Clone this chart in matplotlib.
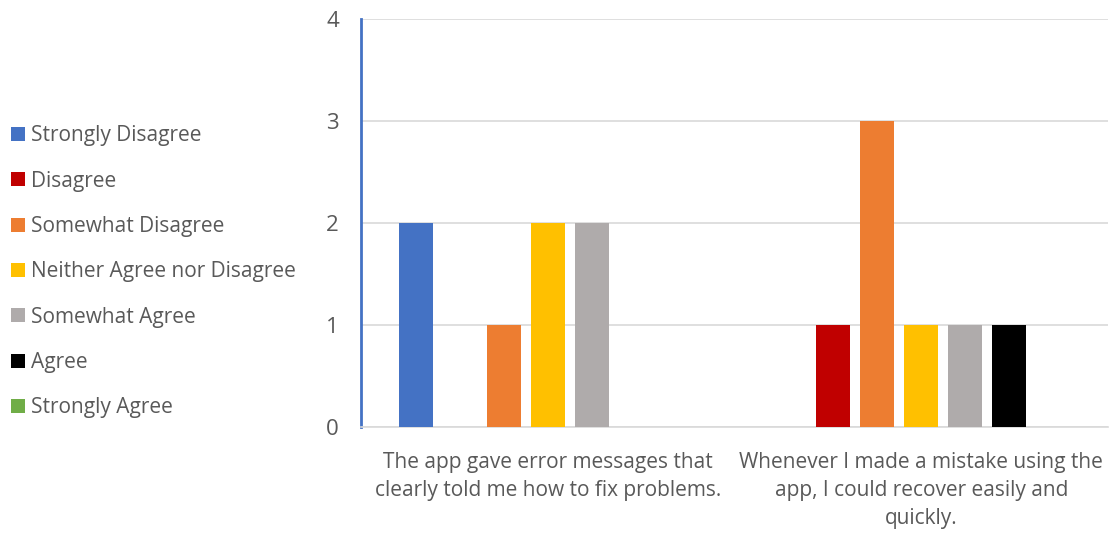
import matplotlib.pyplot as plt
import numpy as np

# Data
categories = ['The app gave error messages that\nclearly told me how to fix problems.',
              'Whenever I made a mistake using the\napp, I could recover easily and\nquickly.']
series = ['Strongly Disagree', 'Disagree', 'Somewhat Disagree',
          'Neither Agree nor Disagree', 'Somewhat Agree', 'Agree', 'Strongly Agree']
values = [
    [2, 0],  # Strongly Disagree
    [0, 1],  # Disagree
    [1, 3],  # Somewhat Disagree
    [2, 1],  # Neither Agree nor Disagree
    [2, 1],  # Somewhat Agree
    [0, 1],  # Agree
    [0, 0],  # Strongly Agree
]
colors = ['#4472C4', '#C00000', '#ED7D31', '#FFC000', '#AFABAB', '#000000', '#70AD47']

plt.rcParams['font.family'] = 'Open Sans'
text_color = '#595959'

fig = plt.figure(figsize=(11.12, 5.34), dpi=100)
ax = fig.add_axes([361 / 1112, 1 - 427 / 534, (1108 - 361) / 1112, (427 - 19) / 534])

x = np.arange(len(categories))
step = 0.118
width = 0.091
for i, (name, vals, c) in enumerate(zip(series, values, colors)):
    ax.bar(x + (i - 3) * step, vals, width=width, color=c, label=name, zorder=3)

ax.set_xlim(-0.5, 1.5)
ax.set_ylim(0, 4)
ax.set_yticks([0, 1, 2, 3, 4])
ax.set_xticks(x)
ax.set_xticklabels(categories, fontsize=15, color=text_color, linespacing=1.45)
ax.tick_params(axis='y', length=0, labelsize=16, labelcolor=text_color, pad=16)
ax.tick_params(axis='x', length=0, pad=18)
ax.grid(axis='y', color='#D9D9D9', linewidth=1.2, zorder=0)

for s in ['top', 'right']:
    ax.spines[s].set_visible(False)
ax.spines['left'].set_color('#4472C4')
ax.spines['left'].set_linewidth(2)
ax.spines['bottom'].set_color('#D9D9D9')
ax.spines['bottom'].set_linewidth(1.2)

leg = fig.legend(loc='center left', bbox_to_anchor=(0.0065, 0.491), frameon=False,
                 fontsize=15, handlelength=0.65, handleheight=0.65,
                 handletextpad=0.3, labelspacing=1.17, borderaxespad=0.0,
                 borderpad=0.2)
for t in leg.get_texts():
    t.set_color(text_color)

fig.savefig('out.png', dpi=100, facecolor='white')
